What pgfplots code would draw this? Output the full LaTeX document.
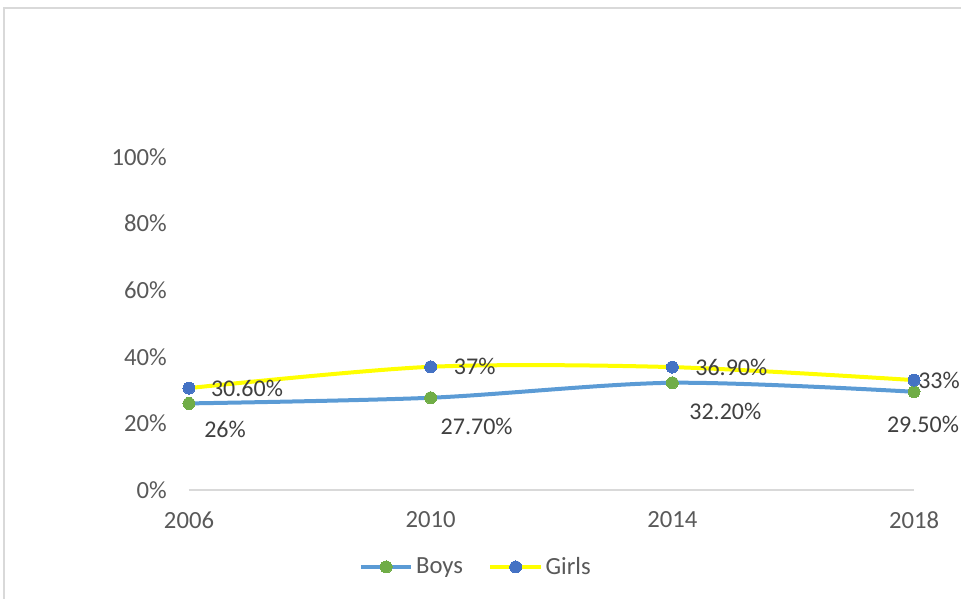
\documentclass[border=0pt]{standalone}
\usepackage{pgfplots}
\usepackage{pgfplotstable}
\pgfplotsset{compat=1.18}
\usepackage{fontspec}
\setmainfont{Carlito}

\definecolor{boysline}{HTML}{5B9BD5}
\definecolor{boysmark}{HTML}{70AD47}
\definecolor{girlsline}{HTML}{FFFF00}
\definecolor{girlsmark}{HTML}{4472C4}
\definecolor{ticktext}{HTML}{595959}
\definecolor{labeltext}{HTML}{404040}
\definecolor{frame}{HTML}{D9D9D9}

% year, value (%), label text
\pgfplotstableread{
year val lab
2006 26   26
2010 27.7 27.70
2014 32.2 32.20
2018 29.5 29.50
}\boys
\pgfplotstableread{
year val lab
2006 30.6 30.60
2010 37   37
2014 36.9 36.90
2018 33   33
}\girls

\pgfplotsset{
    datalabels/.style={
        point meta=explicit symbolic,
        nodes near coords={\pgfplotspointmeta\%},
        nodes near coords style={anchor=center,
            font=\fontsize{18}{21}\selectfont, text=labeltext},
    },
}

\begin{document}
\begin{tikzpicture}
% chart area, 1px = 0.75pt, axis origin at (0,0)
\path[use as bounding box] (-141.75pt,-81.75pt) rectangle (579pt,367.5pt);
\draw[frame, line width=1pt] (-138.75pt,-81.75pt) -- (-138.75pt,361.5pt) -- (579pt,361.5pt);
\begin{axis}[
    scale only axis,
    width=543.75pt, height=249.75pt,
    xmin=2006, xmax=2018, ymin=0, ymax=100,
    clip=false,
    axis x line*=bottom,
    axis y line*=left,
    x axis line style={draw=frame, line width=1.2pt},
    y axis line style={draw=none},
    major tick length=0pt,
    xtick={2006,2010,2014,2018},
    xticklabels={2006,2010,2014,2018},
    ytick={0,20,...,100},
    yticklabel={\pgfmathprintnumber{\tick}\%},
    /pgf/number format/assume math mode=true,
    ticklabel style={font=\fontsize{18.5}{22}\selectfont, text=ticktext},
    xticklabel style={anchor=center, yshift=-22.5pt},
    yticklabel style={anchor=east, inner sep=0pt, xshift=-16.5pt},
    legend columns=2,
    legend style={at={(0.396,-0.231)}, anchor=center, draw=none, fill=none,
        font=\fontsize{18.5}{22}\selectfont, text=ticktext,
        /tikz/every even column/.append style={column sep=17pt}},
    legend image code/.code={
        \draw[mark repeat=2, mark phase=2] plot coordinates {(0pt,0pt) (19pt,0pt) (38pt,0pt)};
    },
]
\addlegendimage{boysline, line width=3pt, mark=*, mark size=4.5pt,
    mark options={fill=boysmark, draw=boysmark, line width=0pt}}
\addlegendentry{Boys}
\addlegendimage{girlsline, line width=3pt, mark=*, mark size=4.5pt,
    mark options={fill=girlsmark, draw=girlsmark, line width=0pt}}
\addlegendentry{Girls}
\addplot[boysline, line width=3pt, smooth, mark=*, mark size=4.5pt,
    mark options={fill=boysmark, draw=boysmark, line width=0pt}, datalabels,
    coordinate style/.condition={\coordindex==0}{xshift=27pt, yshift=-19.5pt},
    coordinate style/.condition={\coordindex==1}{xshift=34.5pt, yshift=-21.75pt},
    coordinate style/.condition={\coordindex==2}{xshift=39.75pt, yshift=-21.75pt},
    coordinate style/.condition={\coordindex==3}{xshift=6.75pt, yshift=-24.75pt}]
    table[x=year, y=val, meta=lab] {\boys};
\addplot[girlsline, line width=3pt, smooth, mark=*, mark size=4.5pt,
    mark options={fill=girlsmark, draw=girlsmark, line width=0pt}, datalabels,
    coordinate style/.condition={\coordindex==0}{xshift=43.5pt, yshift=-0.5pt},
    coordinate style/.condition={\coordindex==1}{xshift=33pt},
    coordinate style/.condition={\coordindex==2}{xshift=44.25pt},
    coordinate style/.condition={\coordindex==3}{xshift=18.75pt}]
    table[x=year, y=val, meta=lab] {\girls};
\end{axis}
\end{tikzpicture}
\end{document}
